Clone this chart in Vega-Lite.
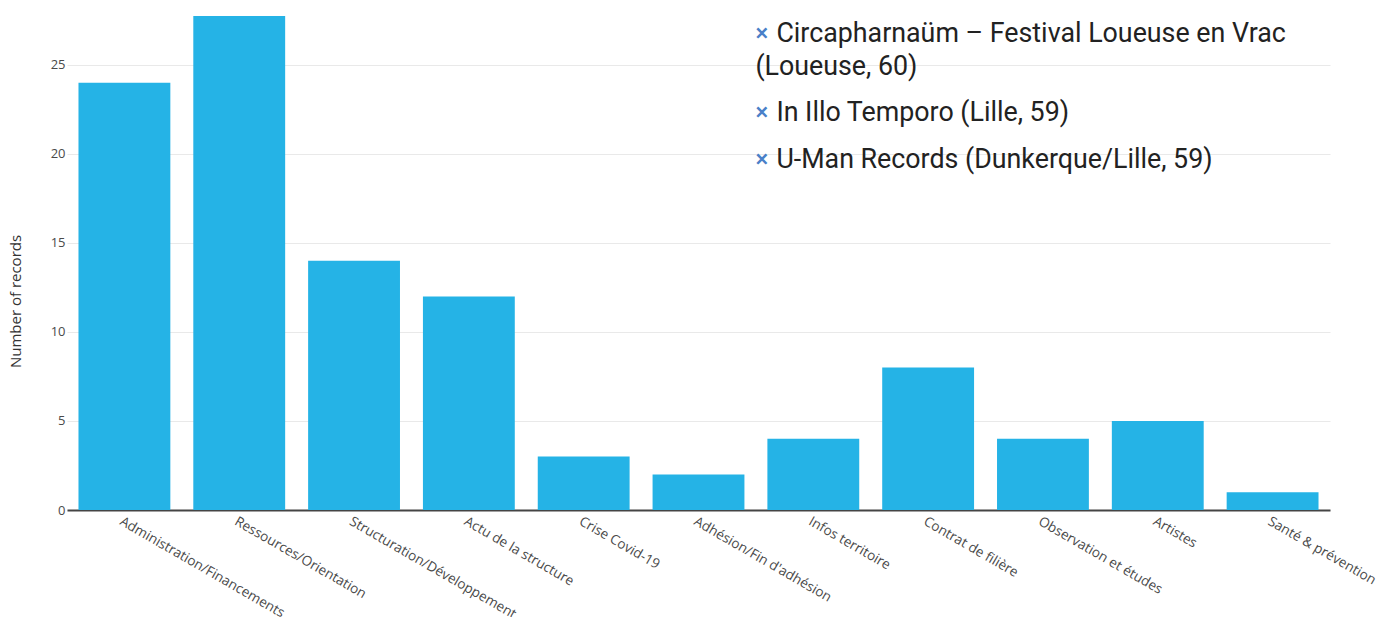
{
  "$schema": "https://vega.github.io/schema/vega-lite/v6.json",
  "autosize": "none",
  "padding": {"left": 67, "top": 16, "right": 49, "bottom": 107},
  "width": 1263,
  "height": 494,
  "background": "white",
  "config": {"view": {"stroke": null}},
  "datasets": {
    "bars": [
      {"theme": "Administration/Financements", "records": 24},
      {"theme": "Ressources/Orientation", "records": 28},
      {"theme": "Structuration/Développement", "records": 14},
      {"theme": "Actu de la structure", "records": 12},
      {"theme": "Crise Covid-19", "records": 3},
      {"theme": "Adhésion/Fin d'adhésion", "records": 2},
      {"theme": "Infos territoire", "records": 4},
      {"theme": "Contrat de filière", "records": 8},
      {"theme": "Observation et études", "records": 4},
      {"theme": "Artistes", "records": 5},
      {"theme": "Santé & prévention", "records": 1}
    ],
    "notes": [
      {"anchor": "Infos territoire", "kind": "item", "bullet": "×", "line": "Circapharnaüm – Festival Loueuse en Vrac", "level": 26.74},
      {"anchor": "Infos territoire", "kind": "wrap", "bullet": "", "line": "(Loueuse, 60)", "level": 24.89},
      {"anchor": "Infos territoire", "kind": "item", "bullet": "×", "line": "In Illo Temporo (Lille, 59)", "level": 22.3},
      {"anchor": "Infos territoire", "kind": "item", "bullet": "×", "line": "U-Man Records (Dunkerque/Lille, 59)", "level": 19.66}
    ]
  },
  "encoding": {
    "x": {
      "field": "theme",
      "type": "nominal",
      "sort": null,
      "scale": {"domain": ["Administration/Financements", "Ressources/Orientation", "Structuration/Développement", "Actu de la structure", "Crise Covid-19", "Adhésion/Fin d'adhésion", "Infos territoire", "Contrat de filière", "Observation et études", "Artistes", "Santé & prévention"], "paddingInner": 0.2, "paddingOuter": 0.1},
      "axis": {
        "title": null,
        "labelAngle": 30,
        "labelAlign": "left",
        "labelBaseline": "top",
        "labelFont": "Open Sans",
        "labelFontSize": 13.6,
        "labelColor": "#4a4a4a",
        "labelPadding": 4,
        "ticks": false,
        "domainColor": "#444444",
        "domainWidth": 2,
        "labelOverlap": false,
        "labelLimit": 300
      }
    },
    "y": {
      "field": "records",
      "type": "quantitative",
      "scale": {"domain": [0, 27.75], "nice": false},
      "axis": {
        "title": "Number of records",
        "titleFont": "Open Sans",
        "titleFontSize": 15,
        "titleFontWeight": "normal",
        "titleColor": "#333333",
        "titlePadding": 27,
        "titleY": 285,
        "values": [0, 5, 10, 15, 20, 25],
        "labelFont": "Open Sans",
        "labelFontSize": 13,
        "labelColor": "#4a4a4a",
        "labelPadding": 2,
        "ticks": false,
        "domain": false,
        "gridColor": "#e9e9e9",
        "gridWidth": 1
      }
    }
  },
  "layer": [
    {
      "data": {"name": "bars"},
      "mark": {"type": "bar", "color": "#25b3e6", "clip": true}
    },
    {
      "data": {"name": "notes"},
      "transform": [{"filter": "datum.kind === 'item'"}],
      "mark": {"type": "text", "align": "left", "baseline": "middle", "font": "Roboto", "fontSize": 24, "fontWeight": 500, "color": "#4a80c8", "dx": -12},
      "encoding": {
        "x": {"field": "anchor", "type": "nominal", "bandPosition": 0},
        "y": {"field": "level", "type": "quantitative"},
        "text": {"field": "bullet"}
      }
    },
    {
      "data": {"name": "notes"},
      "transform": [{"filter": "datum.kind === 'item'"}],
      "mark": {"type": "text", "align": "left", "baseline": "middle", "font": "Roboto", "fontSize": 26.8, "color": "#222222", "dx": 9},
      "encoding": {
        "x": {"field": "anchor", "type": "nominal", "bandPosition": 0},
        "y": {"field": "level", "type": "quantitative"},
        "text": {"field": "line"}
      }
    },
    {
      "data": {"name": "notes"},
      "transform": [{"filter": "datum.kind === 'wrap'"}],
      "mark": {"type": "text", "align": "left", "baseline": "middle", "font": "Roboto", "fontSize": 26.8, "color": "#222222", "dx": -12},
      "encoding": {
        "x": {"field": "anchor", "type": "nominal", "bandPosition": 0},
        "y": {"field": "level", "type": "quantitative"},
        "text": {"field": "line"}
      }
    }
  ]
}
